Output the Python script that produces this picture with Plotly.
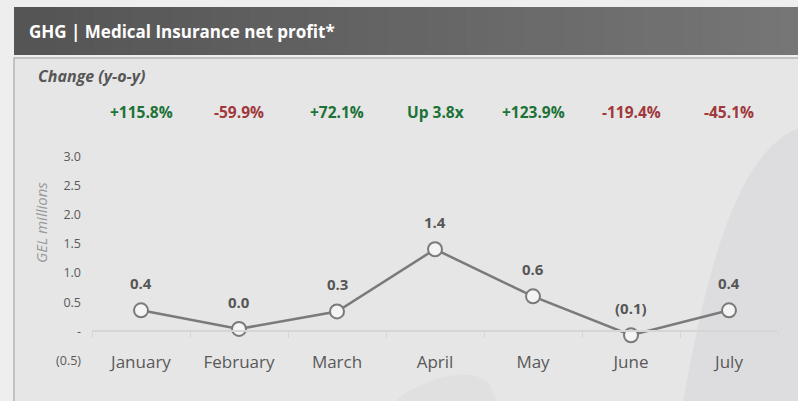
import plotly.graph_objects as go

# monthly net profit, GEL millions
months = ["January", "February", "March", "April", "May", "June", "July"]
net_profit = [0.36, 0.04, 0.34, 1.41, 0.60, -0.07, 0.36]
value_labels = ["0.4", "0.0", "0.3", "1.4", "0.6", "(0.1)", "0.4"]

# y-o-y change row
change_labels = ["+115.8%", "-59.9%", "+72.1%", "Up 3.8x", "+123.9%", "-119.4%", "-45.1%"]
change_up = [True, False, True, True, True, False, False]

y_tickvals = [-0.5, 0, 0.5, 1.0, 1.5, 2.0, 2.5, 3.0]
y_ticktext = ["(0.5)", "-", "0.5", "1.0", "1.5", "2.0", "2.5", "3.0"]

W, H = 798, 401
ML, MR, MT, MB = 92, 20, 151, 32
PW, PH = W - ML - MR, H - MT - MB
Y_MIN, Y_MAX = -0.65, 3.1


# helpers to place decorations in pixel terms
def px_x(px):
    return (px - ML) / PW


def px_y(py):
    return (H - MB - py) / PH


fig = go.Figure()

fig.add_trace(go.Scatter(
    x=months, y=net_profit,
    mode="lines+markers",
    line=dict(color="#7a7a7a", width=2.5),
    marker=dict(size=14, color="#f4f4f4", line=dict(color="#7a7a7a", width=2)),
    cliponaxis=False,
    hoverinfo="skip",
))

shapes = []
# page panel
shapes.append(dict(type="rect", xref="paper", yref="paper",
                   x0=px_x(14), x1=px_x(800), y0=px_y(405), y1=px_y(58),
                   fillcolor="#e6e6e6", line=dict(color="#b5b5b5", width=1.5), layer="below"))
# background swooshes
shapes.append(dict(type="path", xref="paper", yref="paper", layer="below",
                   path=(f"M {px_x(683)},{px_y(402)} "
                         f"C {px_x(705)},{px_y(280)} {px_x(735)},{px_y(150)} {px_x(800)},{px_y(128)} "
                         f"L {px_x(800)},{px_y(402)} Z"),
                   fillcolor="#dddddf", line=dict(width=0)))
shapes.append(dict(type="path", xref="paper", yref="paper", layer="below",
                   path=(f"M {px_x(395)},{px_y(402)} "
                         f"C {px_x(410)},{px_y(385)} {px_x(470)},{px_y(360)} {px_x(490)},{px_y(385)} "
                         f"L {px_x(497)},{px_y(402)} Z"),
                   fillcolor="#e0e0e1", line=dict(width=0)))
# title bar gradient made of thin slices
n = 40
x_start, x_end = 14, 800
for i in range(n):
    t = i / (n - 1)
    c = int(0x55 + (0x76 - 0x55) * t)
    xa = x_start + (x_end - x_start) * i / n
    xb = x_start + (x_end - x_start) * (i + 1) / n + 1
    shapes.append(dict(type="rect", xref="paper", yref="paper",
                       x0=px_x(xa), x1=px_x(xb), y0=px_y(55), y1=px_y(7),
                       fillcolor=f"rgb({c},{c},{c})", line=dict(width=0), layer="below"))

annotations = [
    dict(text="<b>GHG | Medical Insurance net profit*</b>", xref="paper", yref="paper",
         x=px_x(27), y=px_y(31), xanchor="left", yanchor="middle", showarrow=False,
         font=dict(family="Open Sans", size=17, color="white")),
    dict(text="<b><i>Change (y-o-y)</i></b>", xref="paper", yref="paper",
         x=px_x(36), y=px_y(76), xanchor="left", yanchor="middle", showarrow=False,
         font=dict(family="Open Sans", size=16, color="#575757")),
    dict(text="<i>GEL millions</i>", xref="paper", yref="paper", textangle=-90,
         x=px_x(41), y=px_y(223), xanchor="center", yanchor="middle", showarrow=False,
         font=dict(family="Open Sans", size=15, color="#9a9a9a")),
]
# change row above the chart
for m, lab, up in zip(months, change_labels, change_up):
    annotations.append(dict(text=f"<b>{lab}</b>", x=m, xref="x", yref="paper", y=px_y(112),
                            showarrow=False, yanchor="middle",
                            font=dict(family="Open Sans", size=15.5,
                                      color="#1c7237" if up else "#a1383b")))
# value labels above the markers
for m, v, lab in zip(months, net_profit, value_labels):
    annotations.append(dict(text=f"<b>{lab}</b>", x=m, y=v, xref="x", yref="y",
                            showarrow=False, yanchor="middle", yshift=27,
                            font=dict(family="Open Sans", size=15, color="#575757")))

fig.update_layout(
    width=W, height=H,
    margin=dict(l=ML, r=MR, t=MT, b=MB),
    paper_bgcolor="#eeeeee",
    plot_bgcolor="rgba(0,0,0,0)",
    showlegend=False,
    font=dict(family="Open Sans", color="#595959"),
    shapes=shapes,
    annotations=annotations,
)

fig.update_xaxes(
    type="category", range=[-0.5, 6.5],
    anchor="free", position=(0 - Y_MIN) / (Y_MAX - Y_MIN),
    showline=True, linecolor="#d6d6d6", linewidth=1.5,
    ticks="outside", tickson="boundaries", ticklen=6, tickcolor="#d6d6d6",
    ticklabelstandoff=16,
    tickfont=dict(size=17, color="#595959"),
    showgrid=False, zeroline=False,
)
fig.update_yaxes(
    range=[Y_MIN, Y_MAX],
    tickvals=y_tickvals, ticktext=y_ticktext,
    tickfont=dict(size=12.5, color="#595959"),
    ticklabelstandoff=10,
    showgrid=False, zeroline=False, showline=False,
)

# drop the page margin so the chart sits at the window origin
fig.write_html("out.html", config={"displayModeBar": False},
               post_script="document.body.style.margin='0px';")
